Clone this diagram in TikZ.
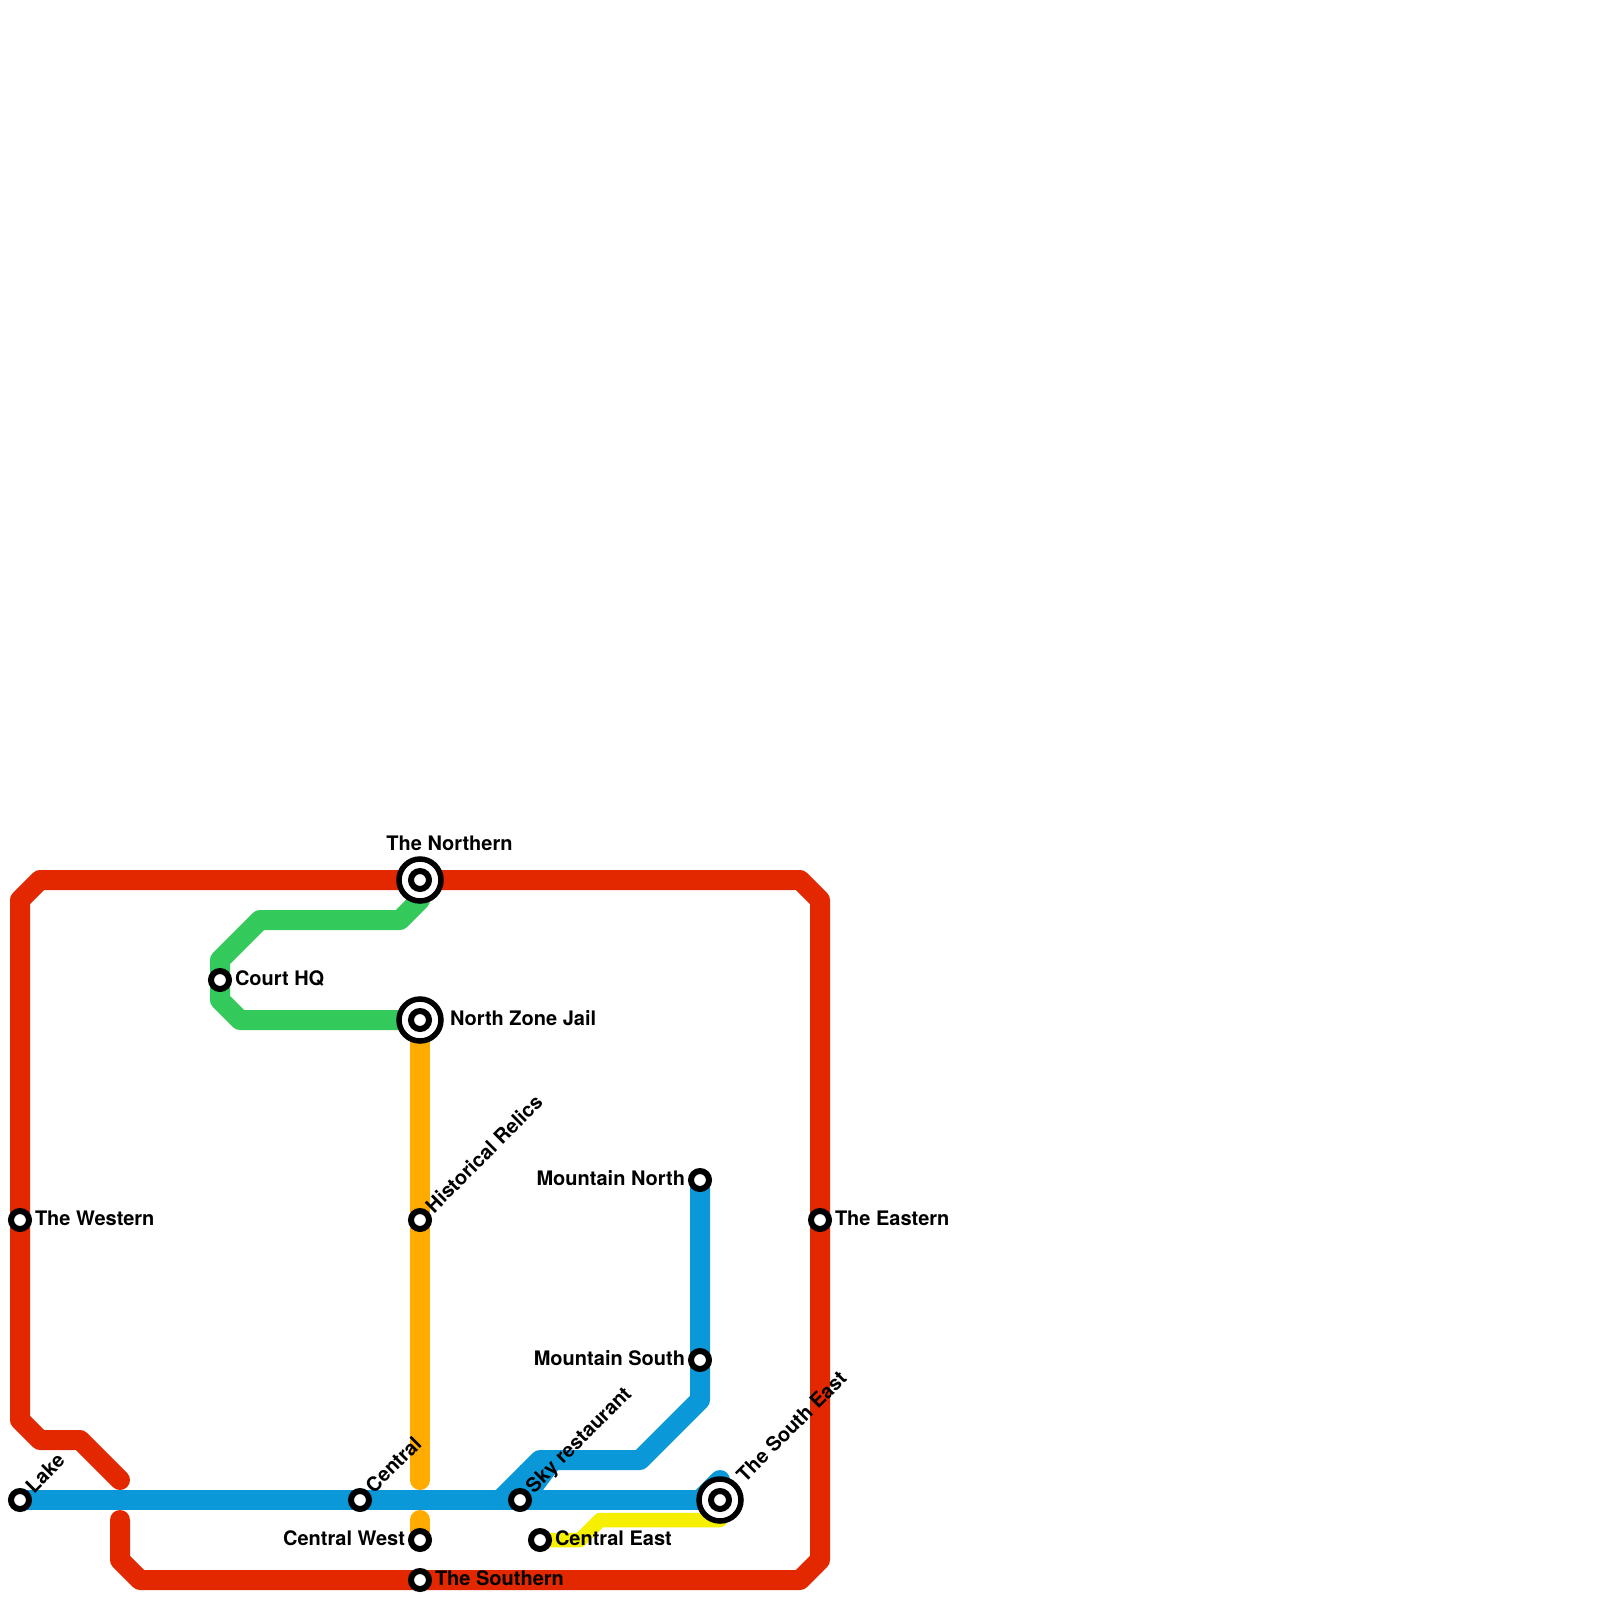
\documentclass[tikz,border=0pt]{standalone}
\usepackage{fontspec}
\setmainfont{TeX Gyre Heros}
\usetikzlibrary{backgrounds}
\definecolor{linered}{HTML}{E32800}
\definecolor{lineblue}{HTML}{0A98D8}
\definecolor{linegreen}{HTML}{33C95B}
\definecolor{lineorange}{HTML}{FFAB00}
\definecolor{lineyellow}{HTML}{F6EF00}
\tikzset{
  x=1pt,y=-1pt,
  stn/.style={circle,draw=black,fill=white,line width=6pt,minimum size=18pt,inner sep=0pt,outer sep=0pt},
  hub/.style={circle,draw=black,fill=white,line width=5.5pt,minimum size=42pt,inner sep=0pt,outer sep=0pt},
  route/.style={line width=20pt,line cap=round,line join=round},
  spur/.style={line width=14.5pt,line cap=round,line join=round},
  lbl/.style={font=\bfseries\fontsize{20}{24}\selectfont,inner sep=0pt,outer sep=0pt,text=black},
  lblR/.style={lbl,anchor=base west},
  lblL/.style={lbl,anchor=base east},
  lblD/.style={lbl,anchor=base west,rotate=45},
}
\begin{document}
\begin{tikzpicture}
\useasboundingbox (0,0) rectangle (1600,1600);
% hubs and stations
\node[hub] (northern) at (420,880) {};
\node[stn] (northernC) at (northern) {};
\node[hub] (jail) at (420,1020) {};
\node[stn] (jailC) at (jail) {};
\node[hub] (southeast) at (720,1500) {};
\node[stn] (southeastC) at (southeast) {};
\node[stn] (court) at (220,980) {};
\node[stn] (western) at (20,1220) {};
\node[stn] (eastern) at (820,1220) {};
\node[stn] (relics) at (420,1220) {};
\node[stn] (mnorth) at (700,1180) {};
\node[stn] (msouth) at (700,1360) {};
\node[stn] (lake) at (20,1500) {};
\node[stn] (central) at (360,1500) {};
\node[stn] (sky) at (520,1500) {};
\node[stn] (cwest) at (420,1540) {};
\node[stn] (ceast) at (540,1540) {};
\node[stn] (southern) at (420,1580) {};
\coordinate (redA) at (120,1480);
\coordinate (redB) at (120,1520);
\coordinate (orangeA) at (420,1480);
\coordinate (orangeB) at (420,1520);
\coordinate (hubStub) at (720,1480);
\begin{scope}[on background layer]
\fill[white] (0,0) rectangle (1600,1600);
\draw[route,linered] (redA) -- (80,1440) -- (40,1440) -- (20,1420) -- (western.center) -- (20,900) -- (40,880) -- (northern.center) -- (800,880) -- (820,900) -- (eastern.center) -- (820,1560) -- (800,1580) -- (southern.center) -- (140,1580) -- (120,1560) -- (redB);
\draw[route,linegreen] (northern.center) -- (420,900) -- (400,920) -- (260,920) -- (220,960) -- (court.center) -- (220,1000) -- (240,1020) -- (jail.center);
\draw[route,lineorange] (jail.center) -- (relics.center) -- (orangeA);
\draw[route,lineorange] (orangeB) -- (cwest.center);
\draw[spur,lineyellow] (ceast.center) -- (580,1540) -- (600,1520) -- (720,1520) -- (southeast.center);
\draw[route,lineblue,line cap=butt] (lake.center) -- (central.center) -- (sky.center) -- (southeast.center);
\draw[route,lineblue] (500,1500) -- (540,1460) -- (640,1460) -- (700,1400) -- (msouth.center) -- (mnorth.center);
\fill[lineblue] (520,1500) -- (520,1465) -- (558,1465) -- (558,1470) -- (543,1490) -- (543,1500) -- cycle;
\draw[route,lineblue] (700,1500) -- (hubStub);
\end{scope}
% labels
\node[lbl,anchor=base] (tNorthern) at (449.5,850) {The Northern};
\node[lblR] (tJail) at (450,1025) {North Zone Jail};
\node[lblR] (tCourt) at (235,985) {Court HQ};
\node[lblR] (tWestern) at (35,1225) {The Western};
\node[lblR] (tEastern) at (835,1225) {The Eastern};
\node[lblL] (tMNorth) at (685,1185) {Mountain North};
\node[lblL] (tMSouth) at (685,1365) {Mountain South};
\node[lblL] (tCWest) at (405,1545) {Central West};
\node[lblR] (tSouthern) at (435,1585) {The Southern};
\node[lblR] (tCEast) at (555,1545) {Central East};
\node[lblD] (tLake) at (34,1494) {Lake};
\node[lblD] (tCentral) at (374,1494) {Central};
\node[lblD] (tRelics) at (434,1214) {Historical Relics};
\node[lblD] (tSky) at (534,1494) {Sky restaurant};
\node[lblD] (tSE) at (745,1483) {The South East};
\end{tikzpicture}
\end{document}
